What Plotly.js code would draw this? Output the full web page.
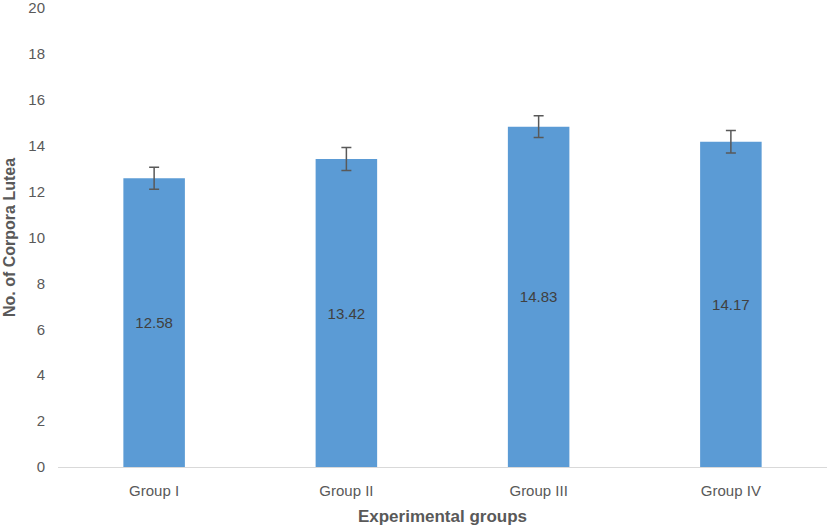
<!DOCTYPE html>
<html>
<head>
<meta charset="utf-8">
<script src="https://cdn.plot.ly/plotly-3.0.1.min.js"></script>
<style>html,body{margin:0;padding:0;background:#fff;}#chart{width:827px;height:529px;}</style>
</head>
<body>
<div id="chart"></div>
<script>
const categories = ["Group I", "Group II", "Group III", "Group IV"];
const values = [12.58, 13.42, 14.83, 14.17];
const errors = [0.48, 0.5, 0.47, 0.49];
const yTicks = [0, 2, 4, 6, 8, 10, 12, 14, 16, 18, 20];

const font = "Liberation Sans, Arial, Helvetica, sans-serif";
const trace = {
  type: "bar",
  x: categories,
  y: values,
  text: values.map(v => v.toFixed(2)),
  textposition: "inside",
  insidetextanchor: "middle",
  textfont: {family: font, size: 15, color: "#404040"},
  marker: {color: "#5B9BD5"},
  error_y: {type: "data", array: errors, visible: true, color: "#595959", thickness: 1.5, width: 5},
  hoverinfo: "none"
};
const layout = {
  width: 827, height: 529,
  margin: {l: 58, r: 0, t: 8, b: 62},
  paper_bgcolor: "#fff", plot_bgcolor: "#fff",
  bargap: 0.68,
  showlegend: false,
  font: {family: font, color: "#595959", size: 15},
  xaxis: {
    type: "category",
    showline: true, linecolor: "#d9d9d9", linewidth: 1,
    ticks: "", showgrid: false, zeroline: false,
    tickfont: {family: font, size: 15, color: "#595959"},
    ticklabelstandoff: 10,
    title: {text: "<b>Experimental groups</b>", font: {family: font, size: 17, color: "#595959"}, standoff: 12}
  },
  yaxis: {
    range: [0, 20], tickvals: yTicks, ticktext: yTicks.map(String),
    showline: false, showgrid: false, zeroline: false, ticks: "",
    ticklabeloverflow: "allow",
    tickfont: {family: font, size: 15, color: "#595959"},
    ticklabelstandoff: 12,
    title: {text: "<b>No. of Corpora Lutea</b>", font: {family: font, size: 16, color: "#595959"}, standoff: 8}
  }
};
Plotly.newPlot("chart", [trace], layout, {displayModeBar: false, staticPlot: true});
</script>
</body>
</html>
